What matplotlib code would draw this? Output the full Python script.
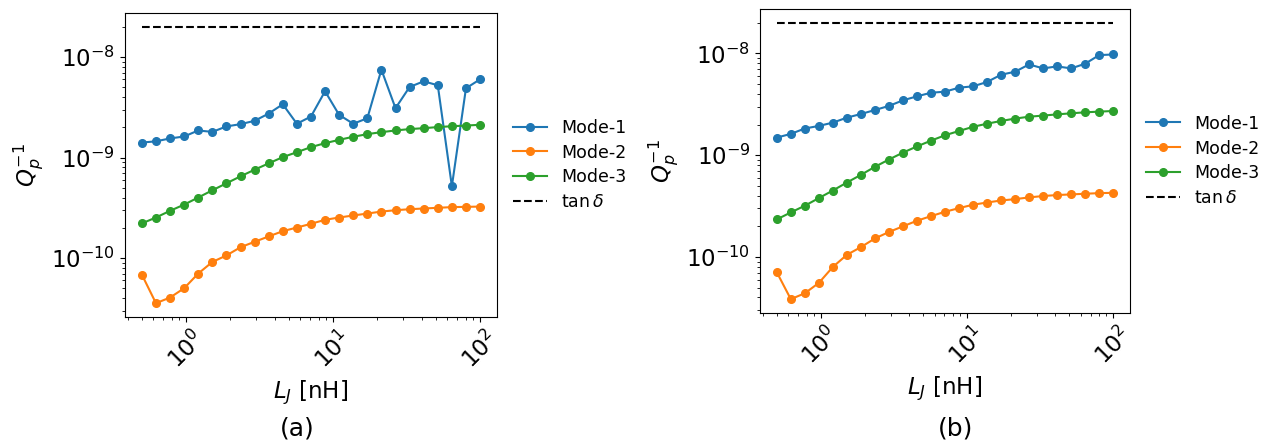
import matplotlib
matplotlib.use('Agg')
import matplotlib.pyplot as plt
from matplotlib.ticker import NullFormatter

# Josephson inductance sweep (nH)
L_J = [0.5, 0.6235, 0.7775, 0.9696, 1.209, 1.508, 1.880, 2.345, 2.924, 3.646,
       4.547, 5.670, 7.071, 8.817, 10.99, 13.71, 17.10, 21.32, 26.59, 33.16,
       41.35, 51.56, 64.30, 80.18, 100.0]

tan_delta = 2e-8

# participation-weighted loss, case (a)
mode1_a = [1.41e-9, 1.45e-9, 1.55e-9, 1.62e-9, 1.86e-9, 1.80e-9, 2.04e-9, 2.15e-9,
           2.32e-9, 2.74e-9, 3.39e-9, 2.17e-9, 2.56e-9, 4.57e-9, 2.66e-9, 2.17e-9,
           2.46e-9, 7.49e-9, 3.10e-9, 5.04e-9, 5.74e-9, 5.24e-9, 5.18e-10, 4.89e-9,
           6.01e-9]
mode2_a = [6.84e-11, 3.55e-11, 4.04e-11, 5.00e-11, 7.00e-11, 9.13e-11, 1.06e-10,
           1.28e-10, 1.45e-10, 1.64e-10, 1.85e-10, 2.01e-10, 2.19e-10, 2.40e-10,
           2.53e-10, 2.65e-10, 2.77e-10, 2.90e-10, 2.99e-10, 3.06e-10, 3.11e-10,
           3.16e-10, 3.21e-10, 3.23e-10, 3.25e-10]
mode3_a = [2.21e-10, 2.53e-10, 2.95e-10, 3.40e-10, 4.00e-10, 4.72e-10, 5.54e-10,
           6.50e-10, 7.57e-10, 8.75e-10, 1.01e-9, 1.13e-9, 1.27e-9, 1.39e-9, 1.50e-9,
           1.61e-9, 1.71e-9, 1.79e-9, 1.86e-9, 1.92e-9, 1.96e-9, 2.01e-9, 2.05e-9,
           2.08e-9, 2.12e-9]

# case (b)
mode1_b = [1.49e-9, 1.62e-9, 1.83e-9, 1.94e-9, 2.09e-9, 2.34e-9, 2.54e-9, 2.78e-9,
           3.05e-9, 3.46e-9, 3.79e-9, 4.11e-9, 4.21e-9, 4.61e-9, 4.75e-9, 5.24e-9,
           6.18e-9, 6.61e-9, 7.80e-9, 7.13e-9, 7.46e-9, 7.13e-9, 7.92e-9, 9.63e-9,
           9.77e-9]
mode2_b = [7.08e-11, 3.85e-11, 4.40e-11, 5.56e-11, 7.98e-11, 1.05e-10, 1.25e-10,
           1.52e-10, 1.76e-10, 2.00e-10, 2.27e-10, 2.52e-10, 2.78e-10, 3.02e-10,
           3.26e-10, 3.43e-10, 3.59e-10, 3.70e-10, 3.85e-10, 3.97e-10, 4.06e-10,
           4.12e-10, 4.18e-10, 4.24e-10, 4.27e-10]
mode3_b = [2.34e-10, 2.74e-10, 3.19e-10, 3.79e-10, 4.50e-10, 5.39e-10, 6.41e-10,
           7.69e-10, 9.07e-10, 1.06e-9, 1.22e-9, 1.39e-9, 1.57e-9, 1.73e-9, 1.90e-9,
           2.04e-9, 2.17e-9, 2.29e-9, 2.39e-9, 2.45e-9, 2.52e-9, 2.58e-9, 2.64e-9,
           2.68e-9, 2.72e-9]

labels = ['Mode-1', 'Mode-2', 'Mode-3']


def loss_panel(ax, modes):
    for vals, lab in zip(modes, labels):
        ax.plot(L_J, vals, 'o-', lw=1.5, ms=5.5, label=lab)
    ax.plot([L_J[0], L_J[-1]], [tan_delta, tan_delta], 'k--', lw=1.5, label=r'$\tan\delta$')
    ax.set_xscale('log')
    ax.set_yscale('log')
    # no labels on the minor log ticks
    ax.xaxis.set_minor_formatter(NullFormatter())
    ax.yaxis.set_minor_formatter(NullFormatter())
    ax.tick_params(axis='both', which='major', labelsize=16.5)
    for t in ax.get_xticklabels():
        t.set_rotation(45)
    ax.set_xlabel(r'$L_J$ [nH]', fontsize=16.5)
    ax.set_ylabel(r'$Q_p^{-1}$', fontsize=16.5)
    ax.legend(loc='center left', bbox_to_anchor=(1, 0.5), frameon=False,
              fontsize=12.5, labelspacing=0.4)


fig = plt.figure(figsize=(12.62, 4.43), dpi=100)
ax_a = fig.add_axes([0.0990, 0.2844, 0.2948, 0.6862])
ax_b = fig.add_axes([0.6022, 0.2935, 0.2932, 0.6862])

loss_panel(ax_a, [mode1_a, mode2_a, mode3_a])
loss_panel(ax_b, [mode1_b, mode2_b, mode3_b])

fig.text(0.2353, 0.018, '(a)', ha='center', va='baseline', fontsize=18)
fig.text(0.7575, 0.018, '(b)', ha='center', va='baseline', fontsize=18)

fig.savefig('out.png', dpi=100)
